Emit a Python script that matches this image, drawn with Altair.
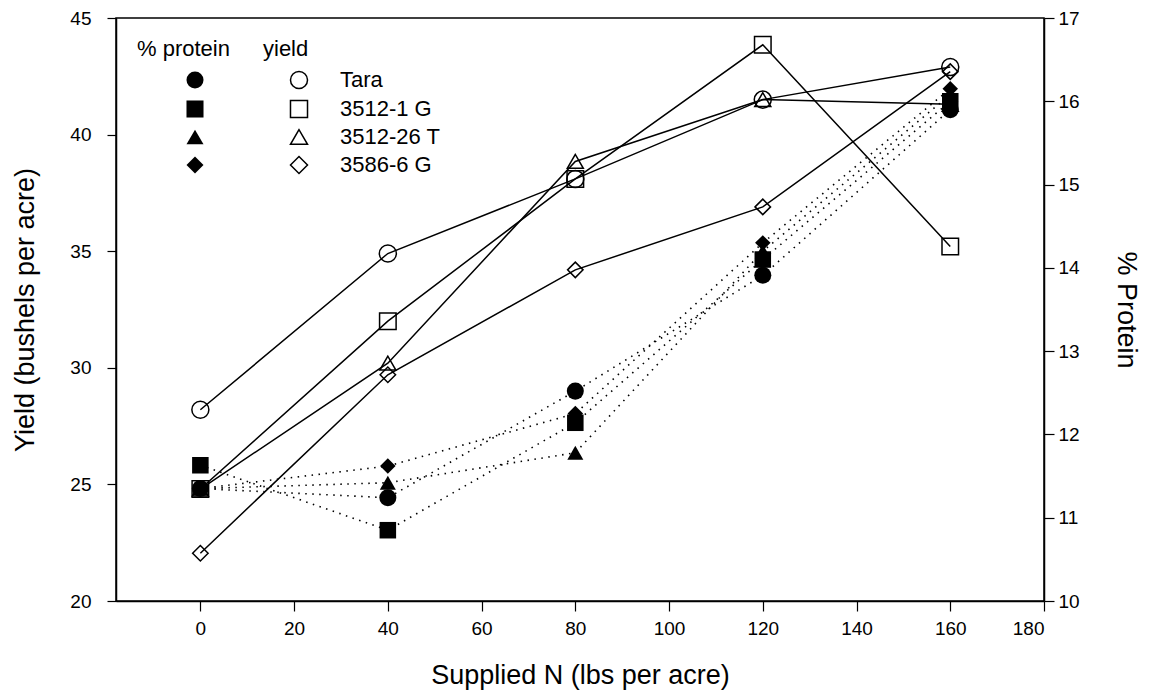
import altair as alt
import pandas as pd

# ---- data ----
N = [0, 40, 80, 120, 160]
varieties = ["Tara", "3512-1 G", "3512-26 T", "3586-6 G"]

yield_tara = [28.2, 34.9, 38.1, 41.5, 42.9]
yield_3512_1 = [24.8, 32.0, 38.1, 43.85, 35.2]
yield_3512_26 = [24.8, 30.2, 38.85, 41.5, 41.3]
yield_3586_6 = [22.05, 29.7, 34.2, 36.9, 42.7]

protein_tara = [11.35, 11.24, 12.52, 13.91, 15.90]
protein_3512_1 = [11.63, 10.85, 12.14, 14.10, 16.00]
protein_3512_26 = [11.35, 11.42, 11.78, 14.20, 16.08]
protein_3586_6 = [11.35, 11.62, 12.25, 14.30, 16.15]

shapes = ["circle", "square", "triangle-up", "diamond"]
sizes = [290, 240, 280, 380]

yields = [yield_tara, yield_3512_1, yield_3512_26, yield_3586_6]
proteins = [protein_tara, protein_3512_1, protein_3512_26, protein_3586_6]

rows = []
for v, ys, ps in zip(varieties, yields, proteins):
    for n, y, p in zip(N, ys, ps):
        rows.append({"N": n, "variety": v, "yield": y, "protein": p})
df = pd.DataFrame(rows)

FONT = "Liberation Sans"

x_enc = alt.X(
    "N:Q",
    scale=alt.Scale(domain=[-18, 180], nice=False, zero=False),
    axis=alt.Axis(
        title="Supplied N (lbs per acre)",
        values=[0, 20, 40, 60, 80, 100, 120, 140, 160, 180],
        tickSize=10, labelPadding=8, titlePadding=24,
        labelFontSize=19, titleFontSize=27,
    ),
)

shape_scale = alt.Scale(domain=varieties, range=shapes)
size_scale = alt.Scale(domain=varieties, range=sizes)

base = alt.Chart(df)

yield_y = alt.Y(
    "yield:Q",
    scale=alt.Scale(domain=[20, 45], nice=False, zero=False),
    axis=alt.Axis(
        title="Yield (bushels per acre)",
        values=[20, 25, 30, 35, 40, 45],
        orient="left", tickSize=9, labelPadding=16, titlePadding=30,
        labelFontSize=19, titleFontSize=27,
    ),
)

protein_y = alt.Y(
    "protein:Q",
    scale=alt.Scale(domain=[10, 17], nice=False, zero=False),
    axis=alt.Axis(
        title="% Protein",
        values=[10, 11, 12, 13, 14, 15, 16, 17],
        orient="right", tickSize=10, labelPadding=4, titlePadding=32,
        labelFontSize=19, titleFontSize=27,
    ),
)

yield_lines = base.mark_line(color="black", strokeWidth=1.5).encode(
    x=x_enc, y=yield_y, detail="variety:N", order="N:Q"
)

yield_points = base.mark_point(
    filled=False, color="black", strokeWidth=1.5, opacity=1
).encode(
    x=x_enc,
    y=yield_y,
    shape=alt.Shape(
        "variety:N",
        scale=shape_scale,
        legend=alt.Legend(
            title="yield", orient="none", legendX=147, legendY=21,
            symbolOffset=25, labelOffset=30, symbolSize=290,
            symbolStrokeWidth=1.5, symbolStrokeColor="black",
            labelFontSize=22, titleFontSize=22, titleFontWeight="normal",
            titlePadding=8, rowPadding=5, padding=0,
            labelColor="black", titleColor="black",
        ),
    ),
    size=alt.Size("variety:N", scale=size_scale, legend=None),
)

protein_lines = base.mark_line(
    color="black", strokeWidth=1.6, strokeDash=[1.5, 5.5]
).encode(x=x_enc, y=protein_y, detail="variety:N", order="N:Q")

protein_points = base.mark_point(
    filled=True, color="black", opacity=1
).encode(
    x=x_enc,
    y=protein_y,
    shape=alt.Shape(
        "variety:N",
        scale=shape_scale,
        legend=alt.Legend(
            title="% protein", orient="none", legendX=21, legendY=21,
            symbolOffset=47, symbolSize=290, labelOpacity=0,
            symbolFillColor="black", symbolStrokeColor="black",
            labelFontSize=22, titleFontSize=22, titleFontWeight="normal",
            titlePadding=8, rowPadding=5, padding=0,
            labelColor="black", titleColor="black",
        ),
    ),
    size=alt.Size("variety:N", scale=size_scale, legend=None),
)

left = alt.layer(yield_lines, yield_points)
right = alt.layer(protein_lines, protein_points)

chart = (
    alt.layer(left, right)
    .resolve_scale(y="independent", shape="independent")
    .properties(
        width=928,
        height=583,
        autosize=alt.AutoSizeParams(type="none"),
        padding={"left": 108, "top": 10, "right": 97, "bottom": 91},
        background="white",
    )
    .configure(font=FONT)
    .configure_view(stroke="black", strokeWidth=1.5)
    .configure_axis(
        grid=False,
        domainColor="black", domainWidth=1.5,
        tickColor="black", tickWidth=1.2,
        labelColor="black", titleColor="black",
        labelFont=FONT, titleFont=FONT,
        titleFontWeight="normal",
    )
    .configure_legend(labelFont=FONT, titleFont=FONT)
)

chart.save("out.html", embed_options={"renderer": "svg", "actions": False})
